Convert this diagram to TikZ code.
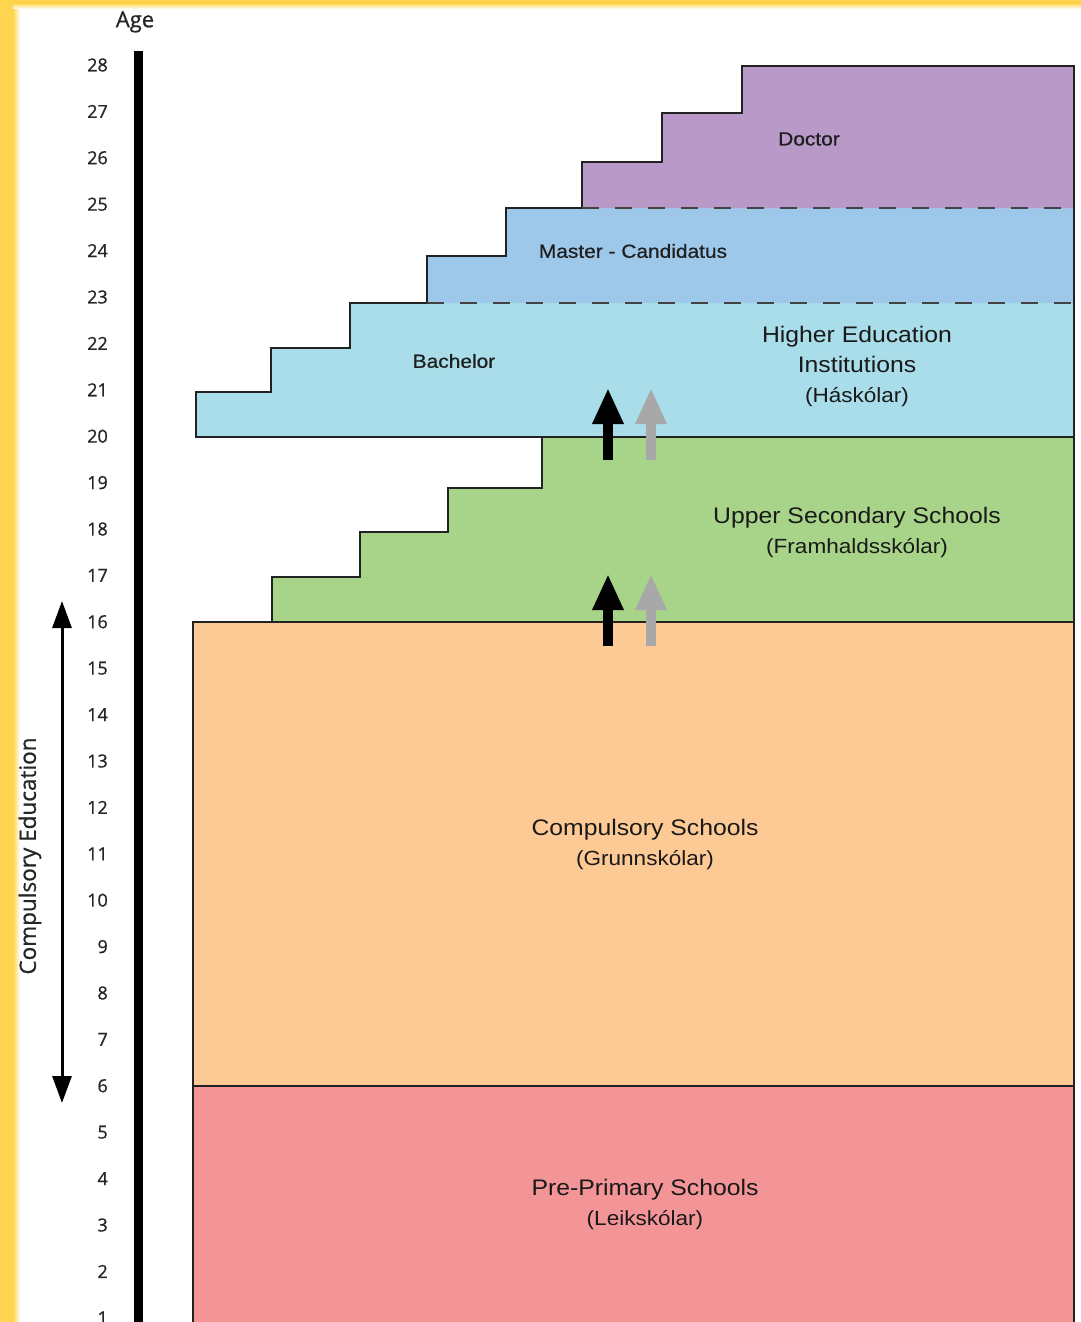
\documentclass[tikz,border=0pt]{standalone}
\usepackage{fontspec}
\setmainfont{Liberation Sans}
\newfontfamily\boxfont[FakeStretch=1.1]{Liberation Sans}
\newfontfamily\smallboxfont[FakeStretch=1.1,FakeBold=0.6]{Liberation Sans}
\newfontfamily\axisfont[FakeBold=0.8]{Open Sans}
\usetikzlibrary{arrows.meta}

\definecolor{edgeyellow}{RGB}{255,213,79}
\definecolor{doctorcol}{RGB}{184,153,200}
\definecolor{mastercol}{RGB}{158,200,234}
\definecolor{bachelorcol}{RGB}{168,221,233}
\definecolor{upseccol}{RGB}{168,212,138}
\definecolor{compcol}{RGB}{253,202,150}
\definecolor{preprimcol}{RGB}{243,149,151}
\definecolor{outlinecol}{RGB}{34,34,34}
\definecolor{grayarrow}{RGB}{168,168,168}

\tikzset{
  stage/.style={draw=outlinecol, line width=1.6pt, line join=miter},
  divider/.style={draw=outlinecol!85, line width=1.8pt, dash pattern=on 17pt off 16pt},
  agelbl/.style={font=\axisfont\fontsize{18}{20}\selectfont, text=black!85, anchor=east, inner sep=0pt},
  smalllbl/.style={font=\smallboxfont\fontsize{19}{22}\selectfont, text=black!88, inner sep=0pt},
  biglbl/.style={font=\boxfont\fontsize{22.5}{30}\selectfont, text=black!90, align=center, inner sep=0pt},
  uparrow/.style={line width=10pt, -{Triangle[width=29pt,length=36pt]}}
}
\newcommand{\sublbl}[1]{{\fontsize{20.5}{30}\selectfont #1}}

\begin{document}
\begin{tikzpicture}[x=1pt,y=-1pt]
			%%%%% FRAME %%%%%
			\useasboundingbox (0,0) rectangle (1081,1322);
			\clip (0,0) rectangle (1081,1322);
			\fill[white] (0,0) rectangle (1081,1322);
			\fill[edgeyellow] (0,0) rectangle (13,1322);
			\shade[left color=edgeyellow, right color=white] (13,0) rectangle (20,1322);
			\fill[edgeyellow] (0,0) rectangle (1081,3);
			\shade[top color=edgeyellow, bottom color=white] (13,3) rectangle (1081,9);
			
			%%%%% STAGES %%%%%
			\fill[preprimcol, stage] (193,1086) rectangle (1074,1340);
			\fill[compcol, stage] (193,622) rectangle (1074,1086);
			\fill[upseccol, stage] (272,622) -- (272,577) -- (360,577) -- (360,532) -- (448,532) -- (448,488) -- (542,488) -- (542,437) -- (1074,437) -- (1074,622) -- cycle;
			
			\fill[bachelorcol] (196,437) -- (196,392) -- (271,392) -- (271,348) -- (350,348) -- (350,303) -- (1074,303) -- (1074,437) -- cycle;
			\fill[mastercol] (427,303) -- (427,256) -- (506,256) -- (506,208) -- (1074,208) -- (1074,303) -- cycle;
			\fill[doctorcol] (582,208) -- (582,162) -- (662,162) -- (662,113) -- (742,113) -- (742,66) -- (1074,66) -- (1074,208) -- cycle;
			\draw[stage] (196,437) -- (196,392) -- (271,392) -- (271,348) -- (350,348) -- (350,303) -- (427,303) -- (427,256) -- (506,256) -- (506,208) -- (582,208) -- (582,162) -- (662,162) -- (662,113) -- (742,113) -- (742,66) -- (1074,66) -- (1074,437) -- cycle;
			\draw[divider] (582,208) -- (1074,208);
			\draw[divider] (427,303) -- (1074,303);
			
			%%%%% LABELS %%%%%
			\node[smalllbl] (doctor) at (809,139) {Doctor};
			\node[smalllbl] (master) at (633,251) {Master - Candidatus};
			\node[smalllbl] (bachelor) at (454,361) {Bachelor};
			\node[biglbl] (hei) at (857,366) {Higher Education\\Institutions\\\sublbl{(Háskólar)}};
			\node[biglbl] (upsec) at (857,532) {Upper Secondary Schools\\\sublbl{(Framhaldsskólar)}};
			\node[biglbl] (comp) at (645,844) {Compulsory Schools\\\sublbl{(Grunnskólar)}};
			\node[biglbl] (preprim) at (645,1204) {Pre-Primary Schools\\\sublbl{(Leikskólar)}};
			
			%%%%% PROGRESSION ARROWS %%%%%
			\coordinate (hiblack-s) at (608,460);
			\coordinate (hiblack-t) at (608,388);
			\coordinate (higray-s) at (651,460);
			\coordinate (higray-t) at (651,388);
			\coordinate (loblack-s) at (608,646);
			\coordinate (loblack-t) at (608,574);
			\coordinate (logray-s) at (651,646);
			\coordinate (logray-t) at (651,574);
			\draw[uparrow, black] (hiblack-s) -- (hiblack-t);
			\draw[uparrow, grayarrow] (higray-s) -- (higray-t);
			\draw[uparrow, black] (loblack-s) -- (loblack-t);
			\draw[uparrow, grayarrow] (logray-s) -- (logray-t);
			
			%%%%% AGE AXIS %%%%%
			\coordinate (axistop) at (138,51);
			\coordinate (axisbot) at (138,1330);
			\draw[line width=9pt] (axistop) -- (axisbot);
			\node[font=\axisfont\fontsize{22}{24}\selectfont, text=black!85] (agetitle) at (135,22) {Age};
			\foreach \a in {1,...,28}
				\node[agelbl] (age\a) at (108,{65+(28-\a)*46.4}) {\a};
			
			%%%%% COMPULSORY SPAN %%%%%
			\coordinate (compstart) at (62,601);
			\coordinate (compend) at (62,1103);
			\draw[line width=3pt, {Triangle[width=19pt,length=27pt]}-{Triangle[width=19pt,length=27pt]}] (compstart) -- (compend);
			\node[font=\axisfont\fontsize{22.5}{24}\selectfont, text=black!85, rotate=90] (complbl) at (30,856) {Compulsory Education};
\end{tikzpicture}
\end{document}
